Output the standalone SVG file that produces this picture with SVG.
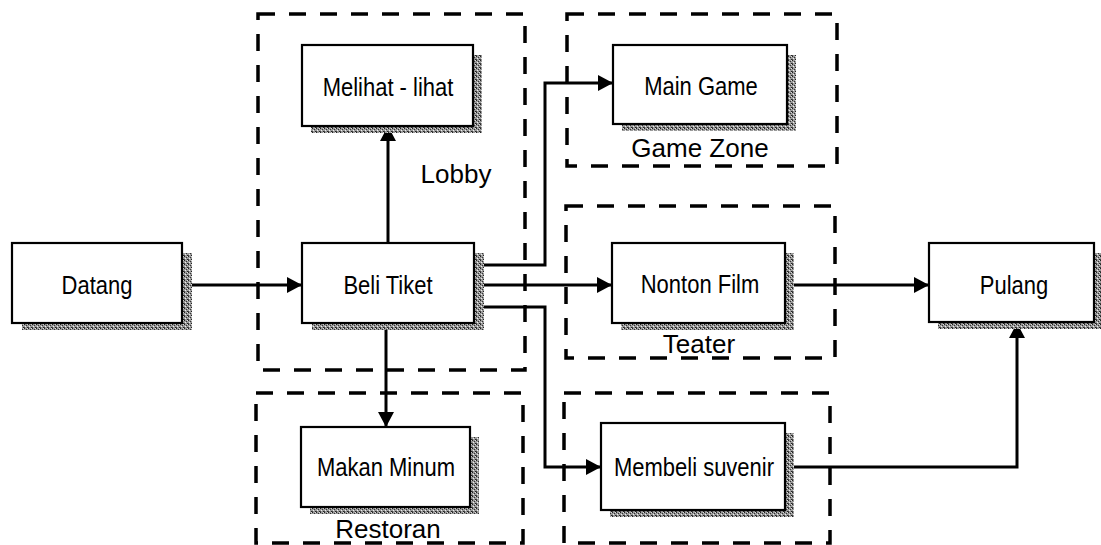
<svg xmlns="http://www.w3.org/2000/svg" width="1101" height="545" viewBox="0 0 1101 545">
<style>
.box{fill:#fff;stroke:#000;stroke-width:2.2}
.shadow{fill:url(#grain)}
.zone{fill:none;stroke:#000;stroke-width:3.5;stroke-dasharray:17 14}
.conn{fill:none;stroke:#000;stroke-width:3}
.t{font-family:"Liberation Sans",Arial,sans-serif;font-size:22px;fill:#000;text-anchor:middle;transform-box:fill-box;transform-origin:center;transform:scaleY(1.15)}
.lbl{font-family:"Liberation Sans",Arial,sans-serif;font-size:26px;fill:#000;text-anchor:middle}
</style>
<defs>
<pattern id="grain" width="4" height="4" patternUnits="userSpaceOnUse">
<rect width="4" height="4" fill="#9a9a9a"/>
<rect x="0" y="0" width="1" height="1" fill="#222"/>
<rect x="2" y="1" width="1" height="1" fill="#333"/>
<rect x="1" y="2" width="1" height="1" fill="#eee"/>
<rect x="3" y="3" width="1" height="1" fill="#222"/>
<rect x="3" y="0" width="1" height="1" fill="#ddd"/>
<rect x="0" y="3" width="1" height="1" fill="#444"/>
</pattern>
<marker id="arr" markerUnits="userSpaceOnUse" markerWidth="16" markerHeight="18" refX="15" refY="8" orient="auto">
<path d="M0,0 L15,8 L0,16 Z" fill="#000"/>
</marker>
</defs>
<rect width="1101" height="545" fill="#fff"/>

<g id="zone-lobby">
<rect class="zone" x="258" y="14" width="267" height="356"/>
<text class="lbl" x="456" y="183">Lobby</text>
</g>
<g id="zone-gamezone">
<rect class="zone" x="567" y="14" width="270" height="152"/>
<text class="lbl" x="700" y="157">Game Zone</text>
</g>
<g id="zone-teater">
<rect class="zone" x="566" y="206" width="269" height="152"/>
<text class="lbl" x="699" y="353">Teater</text>
</g>
<g id="zone-restoran">
<rect class="zone" x="256" y="393" width="267" height="150"/>
<text class="lbl" x="388" y="538">Restoran</text>
</g>
<g id="zone-suvenir">
<rect class="zone" x="564" y="393" width="266" height="150"/>
</g>

<g id="connectors">
<path class="conn" d="M182,285 L302,285" marker-end="url(#arr)"/>
<path class="conn" d="M388,243 L388,126" marker-end="url(#arr)"/>
<path class="conn" d="M386,323 L386,427" marker-end="url(#arr)"/>
<path class="conn" d="M474,265 L545,265 L545,83 L613,83" marker-end="url(#arr)"/>
<path class="conn" d="M474,285 L612,285" marker-end="url(#arr)"/>
<path class="conn" d="M474,307 L545,307 L545,467 L601,467" marker-end="url(#arr)"/>
<path class="conn" d="M785,285 L929,285" marker-end="url(#arr)"/>
<path class="conn" d="M785,467 L1017,467 L1017,323" marker-end="url(#arr)"/>
</g>

<g id="node-datang">
<rect class="shadow" x="22" y="253" width="170" height="77"/>
<rect class="box" x="12" y="243" width="170" height="80"/>
<text class="t" x="97" y="293">Datang</text>
</g>
<g id="node-belitiket">
<rect class="shadow" x="312" y="253" width="172" height="77"/>
<rect class="box" x="302" y="243" width="172" height="80"/>
<text class="t" x="388" y="293">Beli Tiket</text>
</g>
<g id="node-melihat">
<rect class="shadow" x="311" y="55" width="171" height="78"/>
<rect class="box" x="302" y="45" width="171" height="81"/>
<text class="t" x="388" y="95">Melihat - lihat</text>
</g>
<g id="node-maingame">
<rect class="shadow" x="622" y="55" width="174" height="76"/>
<rect class="box" x="613" y="45" width="174" height="79"/>
<text class="t" x="701" y="94">Main Game</text>
</g>
<g id="node-nonton">
<rect class="shadow" x="621" y="253" width="173" height="77"/>
<rect class="box" x="612" y="243" width="173" height="80"/>
<text class="t" x="700" y="292">Nonton Film</text>
</g>
<g id="node-makan">
<rect class="shadow" x="310" y="437" width="169" height="77"/>
<rect class="box" x="301" y="427" width="169" height="80"/>
<text class="t" x="386" y="475">Makan Minum</text>
</g>
<g id="node-suvenir">
<rect class="shadow" x="610" y="433" width="184" height="84"/>
<rect class="box" x="601" y="423" width="184" height="87"/>
<text class="t" x="694" y="475">Membeli suvenir</text>
</g>
<g id="node-pulang">
<rect class="shadow" x="938" y="253" width="165" height="76"/>
<rect class="box" x="929" y="243" width="165" height="79"/>
<text class="t" x="1014" y="293">Pulang</text>
</g>
</svg>
